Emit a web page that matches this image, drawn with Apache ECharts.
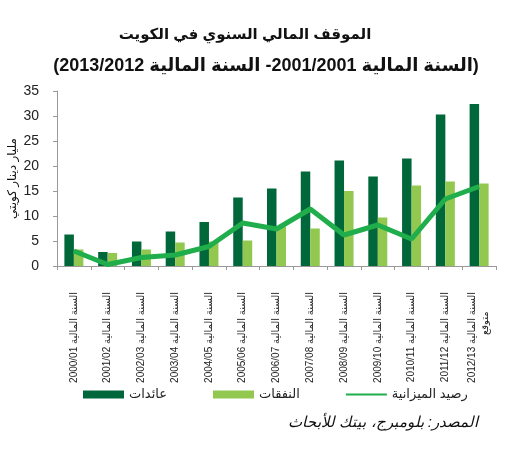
<!DOCTYPE html>
<html>
<head>
<meta charset="utf-8">
<script src="https://cdn.jsdelivr.net/npm/echarts@6/dist/echarts.min.js"></script>
<style>
    html, body { margin: 0; padding: 0; background: #fff; }
    #main { width: 526px; height: 450px; }
</style>
</head>
<body>
<div id="main" dir="rtl"></div>
<script>
var years = ['2000/01', '2001/02', '2002/03', '2003/04', '2004/05', '2005/06', '2006/07',
    '2007/08', '2008/09', '2009/10', '2010/11', '2011/12', '2012/13'];
var revenue = [6.3, 2.8, 4.9, 6.9, 8.8, 13.7, 15.5, 18.9, 21.1, 17.9, 21.5, 30.3, 32.4];
var expenditure = [3.3, 2.6, 3.3, 4.7, 4.9, 5.1, 7.9, 7.5, 15.0, 9.7, 16.1, 16.9, 16.5];
var balance = [3.0, 0.3, 1.7, 2.2, 3.9, 8.6, 7.4, 11.4, 6.2, 8.2, 5.4, 13.4, 15.9];
var yTicks = [0, 5, 10, 15, 20, 25, 30, 35];

var seriesNames = ['عائدات', 'النفقات', 'رصيد الميزانية'];
var prefix = 'السنة المالية ';
var lastNote = 'متوقع';

var categories = [];
for (var i = 0; i < years.length; i++) {
    var s = prefix + years[i];
    if (i == years.length - 1) s += '\n' + '\u00a0\u00a0\u00a0\u00a0\u00a0\u00a0\u00a0' + lastNote;
    categories.push(s);
}

var font = 'Liberation Sans, DejaVu Sans, Arial, sans-serif';

var option = {
    animation: false,
    backgroundColor: '#fff',
    textStyle: { fontFamily: font },
    title: [
        {
            text: 'الموقف المالي السنوي في الكويت',
            left: 240, top: 22, textAlign: 'center',
            textStyle: { fontSize: 15, fontWeight: 'bold', color: '#111', fontFamily: font }
        },
        {
            text: '(السنة المالية 2001/2001- السنة المالية 2013/2012)',
            left: 261, top: 52, textAlign: 'center',
            textStyle: { fontSize: 18, fontWeight: 'bold', color: '#111', fontFamily: font }
        }
    ],
    legend: {
        left: 78, top: 383,
        itemWidth: 41, itemHeight: 8, itemGap: 46,
        textStyle: { fontSize: 13, color: '#222' },
        data: [
            { name: seriesNames[0], icon: 'rect' },
            { name: seriesNames[1], icon: 'rect' },
            { name: seriesNames[2], icon: 'path://M0,0 H41 V2 H0 Z' }
        ]
    },
    grid: { left: 57, right: 30, top: 91, bottom: 184, outerBoundsMode: 'none' },
    xAxis: {
        type: 'category',
        data: categories,
        axisLine: { lineStyle: { color: '#999', width: 1 } },
        axisTick: { show: true, length: 4, lineStyle: { color: '#999' } },
        axisLabel: { rotate: 90, margin: 26, fontSize: 10, color: '#222', interval: 0, lineHeight: 13 }
    },
    yAxis: {
        type: 'value',
        min: 0, max: 35, interval: 5,
        name: 'مليار دينار كويتي',
        nameLocation: 'middle',
        nameGap: 38,
        nameMoveOverlap: false,
        nameTextStyle: { fontSize: 12, color: '#111' },
        axisLine: { show: true, lineStyle: { color: '#999' } },
        axisTick: { show: true, length: 4, lineStyle: { color: '#999' } },
        splitLine: { show: false },
        axisLabel: {
            fontSize: 14, color: '#222', margin: 18,
            formatter: function (v) { return yTicks.indexOf(v) >= 0 ? String(v) : ''; }
        }
    },
    series: [
        {
            name: seriesNames[0],
            type: 'bar',
            data: revenue,
            barWidth: 9.5,
            barGap: '0%',
            itemStyle: { color: '#00673a' }
        },
        {
            name: seriesNames[1],
            type: 'bar',
            data: expenditure,
            barWidth: 9.5,
            itemStyle: { color: '#92c850' }
        },
        {
            name: seriesNames[2],
            type: 'line',
            data: balance,
            symbol: 'none',
            lineStyle: { color: '#1fae4b', width: 5 },
            itemStyle: { color: '#1fae4b' },
            z: 5
        }
    ],
    graphic: [
        {
            type: 'text',
            right: 48, top: 415,
            style: {
                text: 'المصدر: بلومبرج، بيتك للأبحاث',
                font: 'italic 15px ' + font,
                fill: '#111'
            }
        }
    ]
};

var myChart = echarts.init(document.getElementById('main'));
myChart.setOption(option);
</script>
</body>
</html>
